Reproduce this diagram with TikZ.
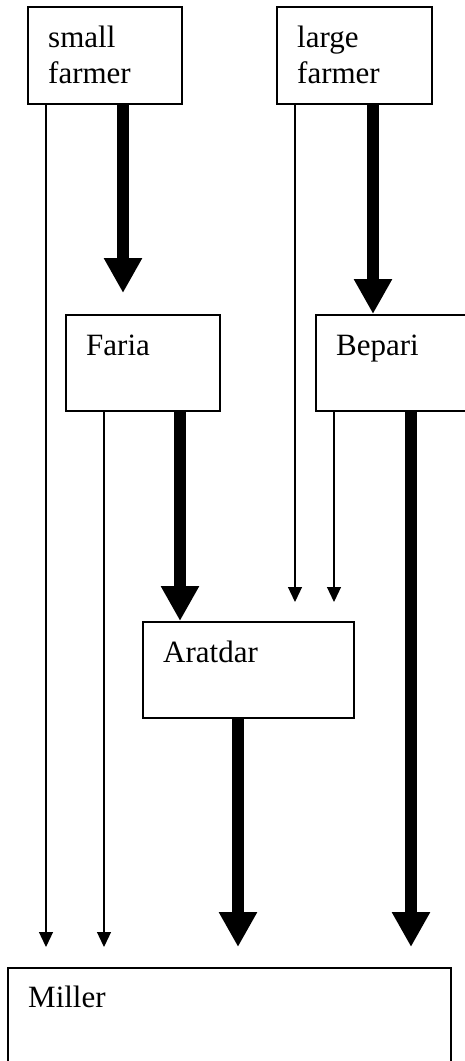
\documentclass[tikz,border=0pt]{standalone}
\usepackage{fontspec}
\setmainfont{Liberation Serif}
\usetikzlibrary{arrows.meta}
\tikzset{
  box/.style={draw, line width=1.6pt, rectangle, inner sep=0pt, anchor=north west},
  lbl/.style={inner sep=0pt, anchor=base west, align=left, font=\fontsize{31}{36}\selectfont},
  thinarrow/.style={line width=1.2pt, -{Triangle[length=15pt 0, width=14pt 0]}},
  thickarrow/.style={line width=12pt, -{Triangle[length=35pt 0, width=36pt 0]}}
}
\begin{document}
\begin{tikzpicture}[x=1pt,y=-1pt]
\useasboundingbox (0,0) rectangle (464,1061);
% boxes
\node[box, minimum width=154pt, minimum height=97pt] (sf) at (27,6) {};
\node[box, minimum width=155pt, minimum height=97pt] (lf) at (276,6) {};
\node[box, minimum width=154pt, minimum height=96pt] (faria) at (65,314) {};
\node[box, minimum width=155pt, minimum height=96pt] (bepari) at (315,314) {};
\node[box, minimum width=211pt, minimum height=96pt] (aratdar) at (142,621) {};
\node[box, minimum width=443pt, minimum height=110pt] (miller) at (7,967) {};
% labels
\node[lbl] (sft) at (48,83) {small\\farmer};
\node[lbl] (lft) at (297,83) {large\\farmer};
\node[lbl] (fariat) at (86,355) {Faria};
\node[lbl] (beparit) at (336,355) {Bepari};
\node[lbl] (aratdart) at (163,662) {Aratdar};
\node[lbl] (millert) at (28,1007) {Miller};
% arrow ends
\coordinate (e1) at (46,947);
\coordinate (e2) at (123,293);
\coordinate (e3) at (295,602);
\coordinate (e4) at (373,314);
\coordinate (e5) at (104,947);
\coordinate (e6) at (180,621);
\coordinate (e7) at (334,602);
\coordinate (e8) at (411,947);
\coordinate (e9) at (238,947);
% connectors
\draw[thinarrow] (sf.south -| e1) -- (e1);
\draw[thickarrow] (sf.south -| e2) -- (e2);
\draw[thinarrow] (lf.south -| e3) -- (e3);
\draw[thickarrow] (lf.south -| e4) -- (bepari.north -| e4);
\draw[thinarrow] (faria.south -| e5) -- (e5);
\draw[thickarrow] (faria.south -| e6) -- (aratdar.north -| e6);
\draw[thinarrow] (bepari.south -| e7) -- (e7);
\draw[thickarrow] (bepari.south -| e8) -- (e8);
\draw[thickarrow] (aratdar.south -| e9) -- (e9);
\end{tikzpicture}
\end{document}
